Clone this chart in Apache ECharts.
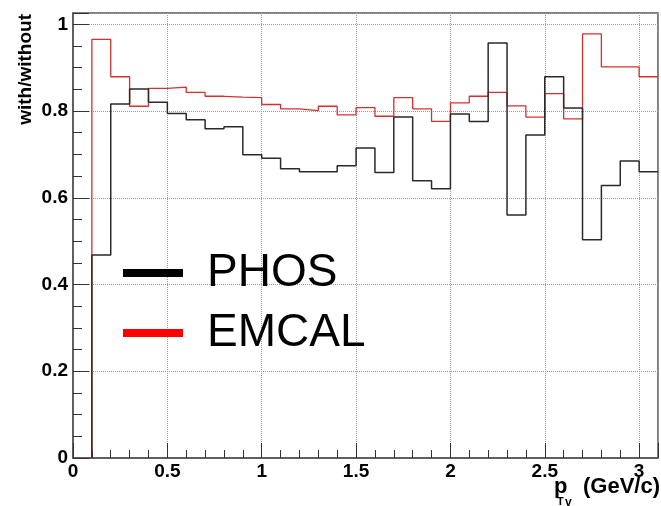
<!DOCTYPE html>
<html>
<head>
<meta charset="utf-8">
<script src="https://cdn.jsdelivr.net/npm/echarts@6/dist/echarts.min.js"></script>
<style>
  html, body { margin: 0; padding: 0; background: #ffffff; }
  #chart { width: 661px; height: 506px; }
</style>
</head>
<body>
<div id="chart"></div>
<script>
// Bin edges of the p_T histograms (GeV/c): lower edges, then the last upper edge
var binLowEdges = [0.1, 0.2, 0.3, 0.4, 0.5, 0.6, 0.7, 0.8, 0.9, 1.0,
                   1.1, 1.2, 1.3, 1.4, 1.5, 1.6, 1.7, 1.8, 1.9, 2.0,
                   2.1, 2.2, 2.3, 2.4, 2.5, 2.6, 2.7, 2.8, 2.9, 3.0];
var lastUpperEdge = 3.1;

// Ratio with/without per bin
var phosRatio = [0.468, 0.816, 0.851, 0.820, 0.794, 0.780, 0.759, 0.764, 0.699, 0.691,
                 0.667, 0.660, 0.660, 0.674, 0.715, 0.658, 0.786, 0.639, 0.621, 0.793,
                 0.776, 0.957, 0.560, 0.745, 0.879, 0.807, 0.503, 0.628, 0.685, 0.660];
var emcalRatio = [0.965, 0.879, 0.811, 0.852, 0.855, 0.843, 0.834, 0.832, 0.831, 0.815,
                  0.805, 0.801, 0.811, 0.791, 0.808, 0.788, 0.831, 0.805, 0.776, 0.819,
                  0.834, 0.843, 0.812, 0.786, 0.840, 0.782, 0.978, 0.902, 0.902, 0.879];

var seriesNames = ['PHOS', 'EMCAL'];
var xTickLabels = ['0', '0.5', '1', '1.5', '2', '2.5', '3'];
var yTickLabels = ['0', '0.2', '0.4', '0.6', '0.8', '1'];

var FONT = '"Liberation Sans", Arial, Helvetica, sans-serif';

// Histogram outline: step from the first lower edge up, flat across each bin
function histPoints(values) {
  var pts = [[binLowEdges[0], 0]];
  for (var i = 0; i < values.length; i++) {
    pts.push([binLowEdges[i], values[i]]);
  }
  pts.push([lastUpperEdge, values[values.length - 1]]);
  return pts;
}

// Only label ticks that fall on the major step
function labelOnStep(step, labels) {
  return function (v) {
    var k = v / step;
    if (Math.abs(k - Math.round(k)) > 1e-6) return '';
    var idx = Math.round(k);
    return labels[idx] !== undefined ? '{b|' + labels[idx] + '}' : '';
  };
}

var boldTick = { fontFamily: FONT, fontWeight: 'bold', fontSize: 19, color: '#000' };
var gridLine = { show: true, lineStyle: { color: '#9a9a9a', type: 'dotted', width: 1 } };

var chart = echarts.init(document.getElementById('chart'), null, { renderer: 'canvas' });

chart.setOption({
  animation: false,
  backgroundColor: '#ffffff',
  grid: {
    left: 73, right: 2, top: 13, bottom: 48,
    show: true, borderColor: '#555', borderWidth: 1.5, backgroundColor: 'transparent'
  },
  xAxis: [
    {
      type: 'value', min: 0, max: lastUpperEdge, interval: 0.5, position: 'bottom',
      axisLine: { show: true, onZero: false, lineStyle: { color: '#555', width: 1.5 } },
      axisTick: { show: true, inside: true, length: 15, lineStyle: { color: '#333', width: 1 } },
      axisLabel: {
        margin: 4, formatter: labelOnStep(0.5, xTickLabels),
        fontFamily: FONT, fontWeight: 'bold', fontSize: 19, color: '#000',
        rich: { b: boldTick }
      },
      splitLine: gridLine
    },
    {
      type: 'value', min: 0, max: lastUpperEdge, interval: 0.1, position: 'bottom',
      axisLine: { show: false },
      axisTick: { show: true, inside: true, length: 8, lineStyle: { color: '#333', width: 1 } },
      axisLabel: { show: false },
      splitLine: { show: false }
    }
  ],
  yAxis: [
    {
      type: 'value', min: 0, max: 1.026, interval: 0.2, position: 'left',
      axisLine: { show: true, onZero: false, lineStyle: { color: '#555', width: 1.5 } },
      axisTick: { show: true, inside: true, length: 16, lineStyle: { color: '#333', width: 1 } },
      axisLabel: {
        margin: 5, formatter: labelOnStep(0.2, yTickLabels),
        fontFamily: FONT, fontWeight: 'bold', fontSize: 19, color: '#000',
        rich: { b: boldTick }
      },
      splitLine: gridLine
    },
    {
      type: 'value', min: 0, max: 1.026, interval: 0.05, position: 'left',
      axisLine: { show: false },
      axisTick: { show: true, inside: true, length: 9, lineStyle: { color: '#333', width: 1 } },
      axisLabel: { show: false },
      splitLine: { show: false }
    }
  ],
  legend: {
    orient: 'vertical',
    left: 118, top: 245,
    itemWidth: 60, itemHeight: 8, itemGap: 14,
    icon: 'rect',
    data: [
      { name: 'PHOS', itemStyle: { color: '#000000' } },
      { name: 'EMCAL', itemStyle: { color: '#ff0000' } }
    ],
    textStyle: {
      fontFamily: FONT, fontSize: 46, color: '#000', lineHeight: 46,
      padding: [0, 0, 0, 19]
    }
  },
  series: [
    {
      name: seriesNames[1], type: 'line', step: 'end',
      xAxisIndex: 0, yAxisIndex: 0,
      showSymbol: false, symbol: 'none',
      lineStyle: { color: '#d43030', width: 1.3 },
      itemStyle: { color: '#ff0000' },
      data: histPoints(emcalRatio), z: 2
    },
    {
      name: seriesNames[0], type: 'line', step: 'end',
      xAxisIndex: 0, yAxisIndex: 0,
      showSymbol: false, symbol: 'none',
      lineStyle: { color: '#2a2a2a', width: 1.5 },
      itemStyle: { color: '#000000' },
      data: histPoints(phosRatio), z: 3
    }
  ],
  graphic: [
    {
      type: 'text', x: 26, y: 14, rotation: Math.PI / 2,
      style: { text: 'with/without', font: 'bold 19px ' + FONT, fill: '#000',
               align: 'right', verticalAlign: 'middle' }
    },
    {
      type: 'text', x: 554, y: 487,
      style: { text: 'p', font: 'bold 22px ' + FONT, fill: '#000',
               align: 'left', verticalAlign: 'middle' }
    },
    {
      type: 'text', x: 557, y: 502,
      style: { text: 'T', font: 'bold 11px ' + FONT, fill: '#000',
               align: 'left', verticalAlign: 'middle' }
    },
    {
      type: 'text', x: 565, y: 503,
      style: { text: 'γ', font: 'bold 12px ' + FONT, fill: '#000',
               align: 'left', verticalAlign: 'middle' }
    },
    {
      type: 'text', x: 583, y: 487,
      style: { text: '(GeV/c)', font: 'bold 22px ' + FONT, fill: '#000',
               align: 'left', verticalAlign: 'middle' }
    }
  ]
});
</script>
</body>
</html>
